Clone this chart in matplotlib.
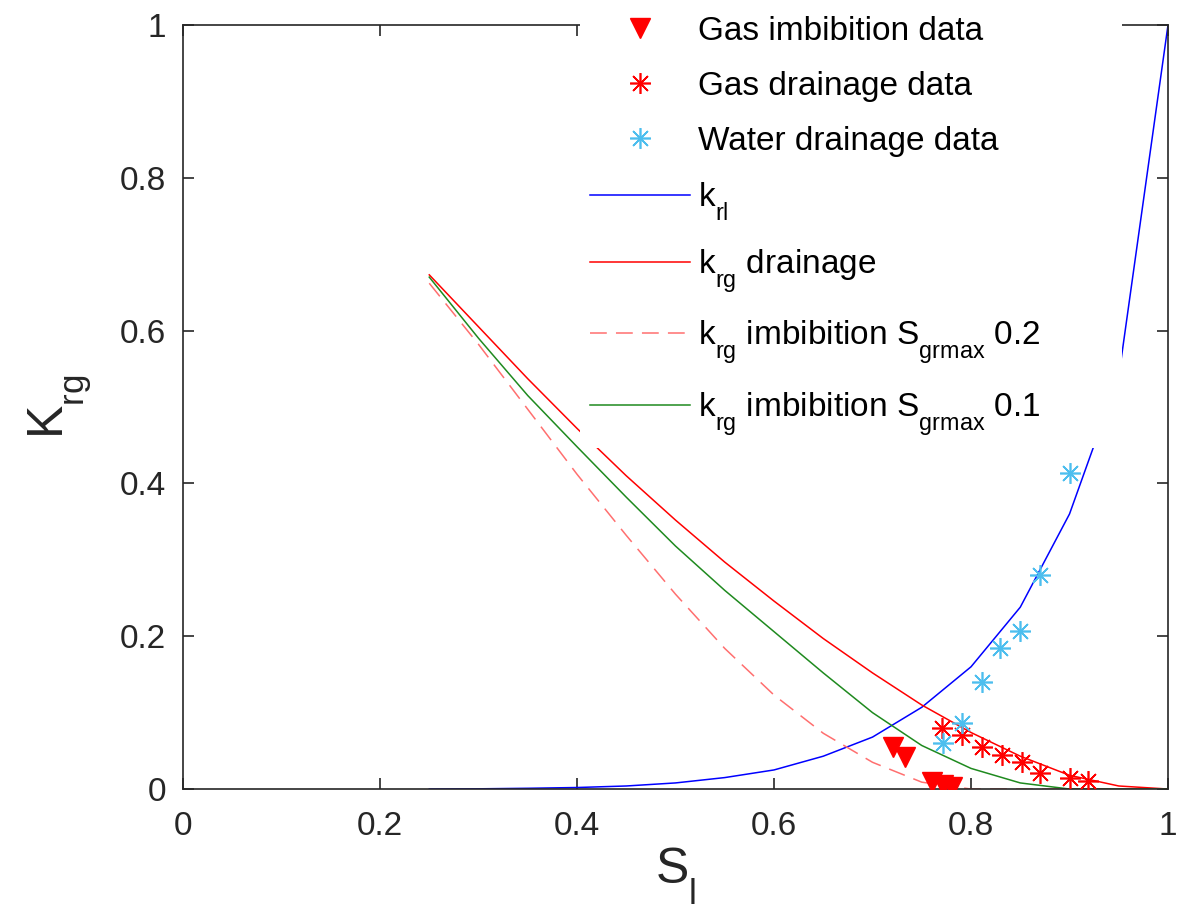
"""Relative permeability curves (k_rl, k_rg drainage / imbibition) with core data."""

import matplotlib
matplotlib.use("Agg")
import matplotlib.pyplot as plt
import matplotlib._mathtext as mathtext_impl

plt.rcParams["font.family"] = ["Liberation Sans", "DejaVu Sans"]
plt.rcParams["mathtext.fontset"] = "custom"
plt.rcParams["mathtext.rm"] = "Liberation Sans"
plt.rcParams["mathtext.default"] = "rm"
# drop subscripts a bit further below the baseline
mathtext_impl.FontConstantsBase.sub1 = 0.8

# ---------- data -------------------------------------------------------------
# liquid saturation grid for the model curves
sl_grid = [0.25, 0.30, 0.35, 0.40, 0.45, 0.50, 0.55, 0.60, 0.65,
           0.70, 0.75, 0.80, 0.85, 0.90, 0.95, 1.00]

krl = [0.0, 0.0003, 0.001, 0.002, 0.004, 0.008, 0.015, 0.025, 0.043,
       0.068, 0.107, 0.160, 0.238, 0.360, 0.540, 1.0]
krg_drainage = [0.673, 0.605, 0.537, 0.472, 0.410, 0.352, 0.297, 0.246, 0.197,
                0.152, 0.110, 0.074, 0.043, 0.018, 0.004, 0.0]
krg_imb_02 = [0.662, 0.582, 0.497, 0.412, 0.332, 0.255, 0.184, 0.123, 0.073,
              0.035, 0.009, 0.0, 0.0, 0.0, 0.0, 0.0]
krg_imb_01 = [0.670, 0.590, 0.515, 0.448, 0.382, 0.318, 0.260, 0.206, 0.152,
              0.100, 0.057, 0.027, 0.008, 0.0, 0.0, 0.0]

# measured points
gas_imb_sl = [0.721, 0.733, 0.760, 0.772, 0.781]
gas_imb_kr = [0.055, 0.042, 0.009, 0.005, 0.003]

gas_dr_sl = [0.771, 0.791, 0.811, 0.831, 0.852, 0.870, 0.900, 0.919]
gas_dr_kr = [0.080, 0.071, 0.055, 0.044, 0.036, 0.021, 0.014, 0.010]

water_dr_sl = [0.772, 0.791, 0.811, 0.829, 0.850, 0.870, 0.900]
water_dr_kr = [0.060, 0.086, 0.140, 0.185, 0.207, 0.280, 0.414]

# ---------- plot -------------------------------------------------------------
fig = plt.figure(figsize=(11.87, 9.16), dpi=100)
ax = fig.add_axes([0.1542, 0.1386, 0.8298, 0.8341])

asterisk = (8, 2, 0)
h1, = ax.plot(gas_imb_sl, gas_imb_kr, "v", color="#ff0000", ms=15,
              label="Gas imbibition data", zorder=4)
h2, = ax.plot(gas_dr_sl, gas_dr_kr, ls="none", marker=asterisk, color="#ff0000",
              ms=15, mew=1.2, label="Gas drainage data", zorder=4)
h3, = ax.plot(water_dr_sl, water_dr_kr, ls="none", marker=asterisk, color="#4dbeee",
              ms=15, mew=1.2, label="Water drainage data", zorder=4)
h4, = ax.plot(sl_grid, krl, color="#0000ff", lw=1.1, label=r"k$_{rl}$")
h5, = ax.plot(sl_grid, krg_drainage, color="#ff0000", lw=1.1,
              label=r"k$_{rg}$ drainage")
h6, = ax.plot(sl_grid, krg_imb_02, color="#ff6f6f", lw=1.1, ls=(0, (11, 6)),
              label=r"k$_{rg}$ imbibition S$_{grmax}$ 0.2")
h7, = ax.plot(sl_grid, krg_imb_01, color="#1f8a1f", lw=1.1,
              label=r"k$_{rg}$ imbibition S$_{grmax}$ 0.1")

ax.set_xlim(0, 1)
ax.set_ylim(0, 1)
ax.set_xticks([0, 0.2, 0.4, 0.6, 0.8, 1])
ax.set_xticklabels(["0", "0.2", "0.4", "0.6", "0.8", "1"])
ax.set_yticks([0, 0.2, 0.4, 0.6, 0.8, 1])
ax.set_yticklabels(["0", "0.2", "0.4", "0.6", "0.8", "1"])
ax.tick_params(direction="in", length=8, width=1.2, colors="#262626",
               labelsize=24, top=True, right=True, pad=12)
ax.tick_params(axis="x", pad=16)
for s in ax.spines.values():
    s.set_color("#262626")
    s.set_linewidth(1.2)

ax.set_xlabel(r"S$_{l}$", fontsize=36, color="#262626", labelpad=2)
ax.set_ylabel(r"K$_{rg}$", fontsize=36, color="#262626", labelpad=19)

leg = ax.legend(handles=[h1, h2, h3, h4, h5, h6, h7],
                loc="upper left", bbox_to_anchor=(0.403, 0.40, 0.550, 0.625),
                mode="expand", fontsize=24, frameon=True, fancybox=False,
                framealpha=1.0, edgecolor="none", facecolor="white",
                handlelength=3.0, handletextpad=0.25, labelspacing=0.72,
                borderpad=0.3, borderaxespad=0.0, numpoints=1)
leg.set_zorder(10)

fig.savefig("out.png", dpi=100, facecolor="white")
